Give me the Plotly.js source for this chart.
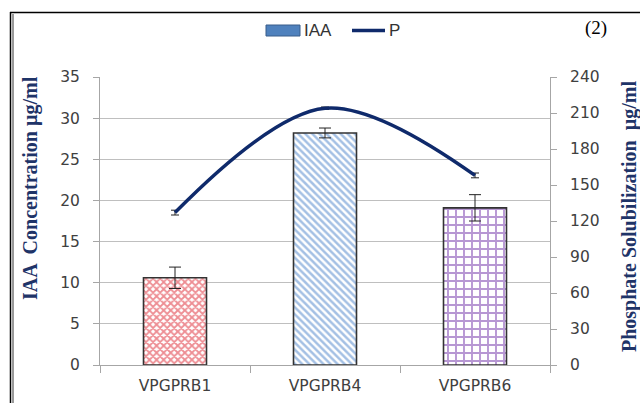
<!DOCTYPE html>
<html>
<head>
<meta charset="utf-8">
<script src="https://cdn.plot.ly/plotly-3.0.1.min.js"></script>
<style>html,body{margin:0;padding:0;background:#fff;}#chart{width:640px;height:403px;}</style>
</head>
<body>
<div id="chart"></div>
<script>
const categories = ["VPGPRB1", "VPGPRB4", "VPGPRB6"];
const iaaValues = [10.6, 28.2, 19.1];
const iaaErrors = [1.3, 0.6, 1.6];
const pValues = [127, 214, 158];
const pErrors = [2, 1, 2];
const leftTicks = [0, 5, 10, 15, 20, 25, 30, 35];
const rightTicks = [0, 30, 60, 90, 120, 150, 180, 210, 240];
const legendLabels = ["IAA", "P"];
const axisTitles = ["IAA  Concentration µg/ml", "Phosphate Solubilization  µg/ml"];
const panelLabel = "(2)";

const L = 100, R = 90, T = 77, B = 38, W = 640 - L - R, H = 403 - T - B;
const px = x => (x - L) / W;
const py = y => (403 - B - y) / H;

const patterns = [
  {shape: 'x', fgcolor: '#dc1c28', size: 5, solidity: 0.6},
  {shape: '\\', fgcolor: '#4a82ca', size: 5, solidity: 0.5},
  {shape: '+', fgcolor: '#7030a8', size: 8, solidity: 0.42}
];

const traces = categories.map((c, i) => ({
  type: 'bar', name: legendLabels[0], x: [c], y: [iaaValues[i]], yaxis: 'y',
  width: 0.42,
  marker: {
    color: '#ffffff',
    line: {color: '#333333', width: 1.6},
    pattern: Object.assign({bgcolor: '#ffffff', fillmode: 'overlay'}, patterns[i])
  },
  error_y: {type: 'data', array: [iaaErrors[i]], visible: true, color: '#222222', thickness: 1, width: 6},
  showlegend: false
}));

traces.push({
  type: 'scatter', mode: 'lines', name: legendLabels[1], x: categories, y: pValues, yaxis: 'y2',
  line: {color: '#0f2a6b', width: 3.5, shape: 'spline', smoothing: 1},
  error_y: {type: 'data', array: pErrors, visible: true, color: '#222222', thickness: 1, width: 4},
  showlegend: false
});

const tickFont = {family: 'DejaVu Sans, sans-serif', size: 15.5, color: '#404040'};
const titleFont = {family: 'Liberation Serif, Times New Roman, serif', size: 20, color: '#1f3468', weight: 'bold'};

const layout = {
  width: 640, height: 403,
  margin: {l: L, r: R, t: T, b: B},
  paper_bgcolor: '#ffffff', plot_bgcolor: '#ffffff',
  barmode: 'overlay',
  showlegend: false,
  xaxis: {
    type: 'category', range: [-0.5, 2.5],
    showline: true, linecolor: '#a6a6a6', linewidth: 1,
    ticks: 'outside', tickson: 'boundaries', ticklen: 7, tickcolor: '#a6a6a6',
    showgrid: false, tickfont: tickFont, ticklabelstandoff: 6
  },
  yaxis: {
    range: [0, 35], tickvals: leftTicks, showline: true, linecolor: '#a6a6a6',
    ticks: 'outside', ticklen: 6, tickcolor: '#a6a6a6',
    showgrid: true, gridcolor: '#bfbfbf', gridwidth: 1, zeroline: false,
    tickfont: tickFont, ticklabelstandoff: 10
  },
  yaxis2: {
    range: [0, 240], tickvals: rightTicks, overlaying: 'y', side: 'right',
    showline: true, linecolor: '#a6a6a6', ticks: 'outside', ticklen: 6, tickcolor: '#a6a6a6',
    showgrid: false, zeroline: false,
    tickfont: tickFont, ticklabelstandoff: 10
  },
  annotations: [
    {text: panelLabel, xref: 'paper', yref: 'paper', x: px(596), y: py(28),
     showarrow: false, xanchor: 'center', yanchor: 'middle',
     font: {family: 'Liberation Serif, Times New Roman, serif', size: 19, color: '#000'}},
    {text: legendLabels[0], xref: 'paper', yref: 'paper', x: px(302), y: py(31),
     showarrow: false, xanchor: 'left', yanchor: 'middle',
     font: {family: 'Liberation Sans Narrow, Liberation Sans, sans-serif', size: 17, color: '#333'}},
    {text: legendLabels[1], xref: 'paper', yref: 'paper', x: px(387), y: py(31),
     showarrow: false, xanchor: 'left', yanchor: 'middle',
     font: {family: 'Liberation Sans Narrow, Liberation Sans, sans-serif', size: 17, color: '#333'}},
    {text: axisTitles[0], xref: 'paper', yref: 'paper', x: px(30), y: py(188), textangle: -90,
     showarrow: false, xanchor: 'center', yanchor: 'middle', font: titleFont},
    {text: axisTitles[1], xref: 'paper', yref: 'paper', x: px(629), y: py(217), textangle: -90,
     showarrow: false, xanchor: 'center', yanchor: 'middle', font: titleFont}
  ],
  shapes: [
    {type: 'line', xref: 'paper', yref: 'paper', x0: px(10.5), x1: px(10.5), y0: py(12), y1: py(410), line: {color: '#000', width: 1.5}},
    {type: 'line', xref: 'paper', yref: 'paper', x0: px(13), x1: px(13), y0: py(14), y1: py(410), line: {color: '#9a9a9a', width: 2}},
    {type: 'line', xref: 'paper', yref: 'paper', x0: px(10), x1: px(650), y0: py(12.5), y1: py(12.5), line: {color: '#000', width: 1.5}},
    {type: 'rect', xref: 'paper', yref: 'paper', x0: px(266), x1: px(300), y0: py(25), y1: py(36),
     fillcolor: '#4f81bd', line: {color: '#385d8a', width: 1}},
    {type: 'line', xref: 'paper', yref: 'paper', x0: px(352), x1: px(385), y0: py(30.5), y1: py(30.5),
     line: {color: '#0f2a6b', width: 3.5}}
  ]
};

Plotly.newPlot('chart', traces, layout, {displayModeBar: false, staticPlot: true});
</script>
</body>
</html>
